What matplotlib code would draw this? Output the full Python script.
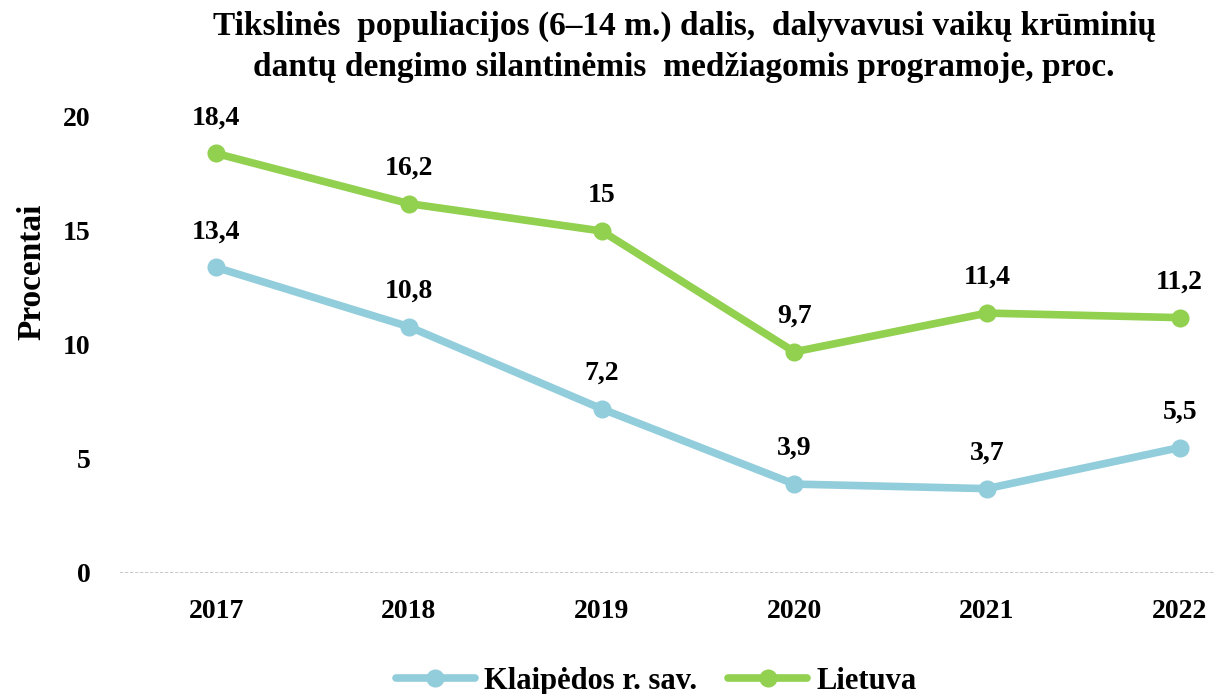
import numpy as np
import matplotlib
matplotlib.use('Agg')
import matplotlib.pyplot as plt

plt.rcParams['font.family'] = ['Liberation Serif', 'DejaVu Serif']
plt.rcParams['font.weight'] = 'bold'

years = ['2017', '2018', '2019', '2020', '2021', '2022']
klaipeda = [13.4, 10.8, 7.2, 3.9, 3.7, 5.5]
lietuva = [18.4, 16.2, 15.0, 9.7, 11.4, 11.2]
klaipeda_lbl = ['13,4', '10,8', '7,2', '3,9', '3,7', '5,5']
lietuva_lbl = ['18,4', '16,2', '15', '9,7', '11,4', '11,2']

c_blue = '#92CDDC'
c_green = '#92D050'

fig = plt.figure(figsize=(12.15, 6.94), dpi=100)
ax = fig.add_axes([120/1215, 121/694, 1156/1215, 456/694])

x = np.arange(len(years))
ax.plot(x, klaipeda, color=c_blue, lw=5.5, marker='o', ms=12,
        label='Klaipėdos r. sav.', solid_capstyle='round')
ax.plot(x, lietuva, color=c_green, lw=5.5, marker='o', ms=12,
        label='Lietuva', solid_capstyle='round')

# value labels above the points
for vals, lbls in [(klaipeda, klaipeda_lbl), (lietuva, lietuva_lbl)]:
    for xi, v, s in zip(x, vals, lbls):
        ax.annotate(s, (xi, v), xytext=(0, 21), textcoords='offset points',
                    ha='center', va='baseline', fontsize=20, fontweight='bold')

ax.set_xlim(-0.5, 5.5)
ax.set_ylim(0, 20)
ax.set_yticks([0, 5, 10, 15, 20])
ax.set_xticks(x)
ax.set_xticklabels(years)
for sp in ax.spines.values():
    sp.set_visible(False)
ax.axhline(0, color='#BFBFBF', lw=1.2, ls=(0, (2, 1)), zorder=0)
ax.tick_params(length=0, labelsize=20)
ax.tick_params(axis='x', pad=19)
ax.tick_params(axis='y', pad=21)

fig.text(32/1215, 1 - 272/694, 'Procentai', rotation=90, ha='center', va='center',
         fontsize=24, fontweight='bold')

fig.text(0.563, 0.985, 'Tikslinės  populiacijos (6–14 m.) dalis,  dalyvavusi vaikų krūminių\n'
         'dantų dengimo silantinėmis  medžiagomis programoje, proc.',
         ha='center', va='top', fontsize=24, fontweight='bold', linespacing=1.45)

leg = fig.legend(loc='center', bbox_to_anchor=(0.54, 0.018), ncol=2, frameon=False,
                 fontsize=22, handlelength=2.6, columnspacing=1.0, handletextpad=0.3)

fig.savefig('out.png', dpi=100)
